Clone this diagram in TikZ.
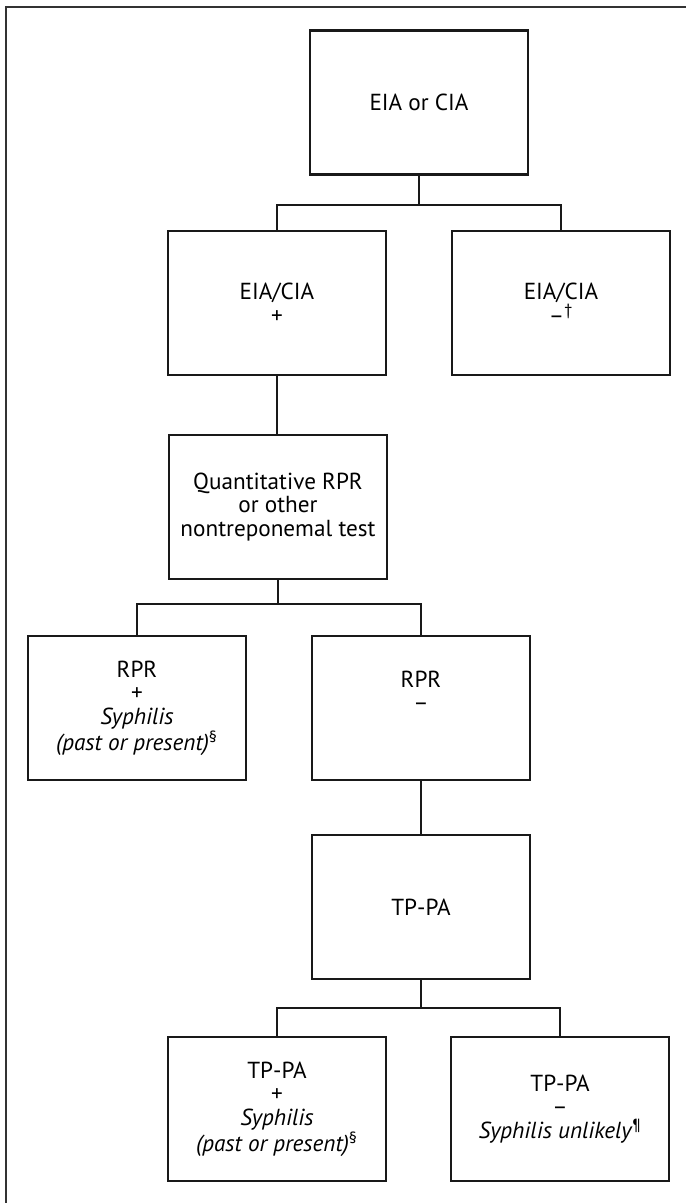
\documentclass[tikz,border=0pt]{standalone}
\usepackage{fontspec}
\setmainfont{PT Sans}
\tikzset{
  testbox/.style={draw=black!90, line width=0.045cm, minimum width=4.36cm,
    minimum height=2.88cm, align=center, inner sep=0pt,
    font=\fontsize{13.2}{13.4}\selectfont},
  link/.style={draw=black!90, line width=0.04cm}
}
\begin{document}
\begin{tikzpicture}[x=0.02cm,y=-0.02cm]
 \useasboundingbox (0,0) rectangle (686,1203);
 % frame (top and left edge only)
 \draw[line width=0.045cm, black!80] (6,1203) -- (6,7) -- (686,7);

 \node[testbox] (screen) at (419,102.5) {EIA or CIA};
 \node[testbox] (eiapos) at (277,303) {EIA/CIA\\+};
 \node[testbox] (eianeg) at (561,303) {EIA/CIA\\–\textsuperscript{†}};
 \node[testbox] (rprtest) at (278,507) {Quantitative RPR\\or other\\nontreponemal test};
 \node[testbox] (rprpos) at (137,708) {RPR\\+\\\textit{Syphilis}\\\textit{(past or present)}\textsuperscript{§}};
 \node[testbox] (rprneg) at (421,708) {RPR\\–\\[6pt]};
 \node[testbox] (tppa) at (421,907) {TP-PA};
 \node[testbox] (tppos) at (277,1109) {TP-PA\\+\\\textit{Syphilis}\\\textit{(past or present)}\textsuperscript{§}};
 \node[testbox] (tpneg) at (560,1109) {TP-PA\\–\\\textit{Syphilis unlikely}\textsuperscript{¶}};

 \draw[link] (screen.south) -- ++(0,29) coordinate (fork1) -| (eiapos.north);
 \draw[link] (fork1) -| (eianeg.north);
 \draw[link] (eiapos.south) -- (eiapos.south |- rprtest.north);
 \draw[link] (rprtest.south) -- ++(0,24) coordinate (fork2) -| (rprpos.north);
 \draw[link] (fork2) -| (rprneg.north);
 \draw[link] (rprneg.south) -- (tppa.north);
 \draw[link] (tppa.south) -- ++(0,28) coordinate (fork3) -| (tppos.north);
 \draw[link] (fork3) -| (tpneg.north);
\end{tikzpicture}
\end{document}
